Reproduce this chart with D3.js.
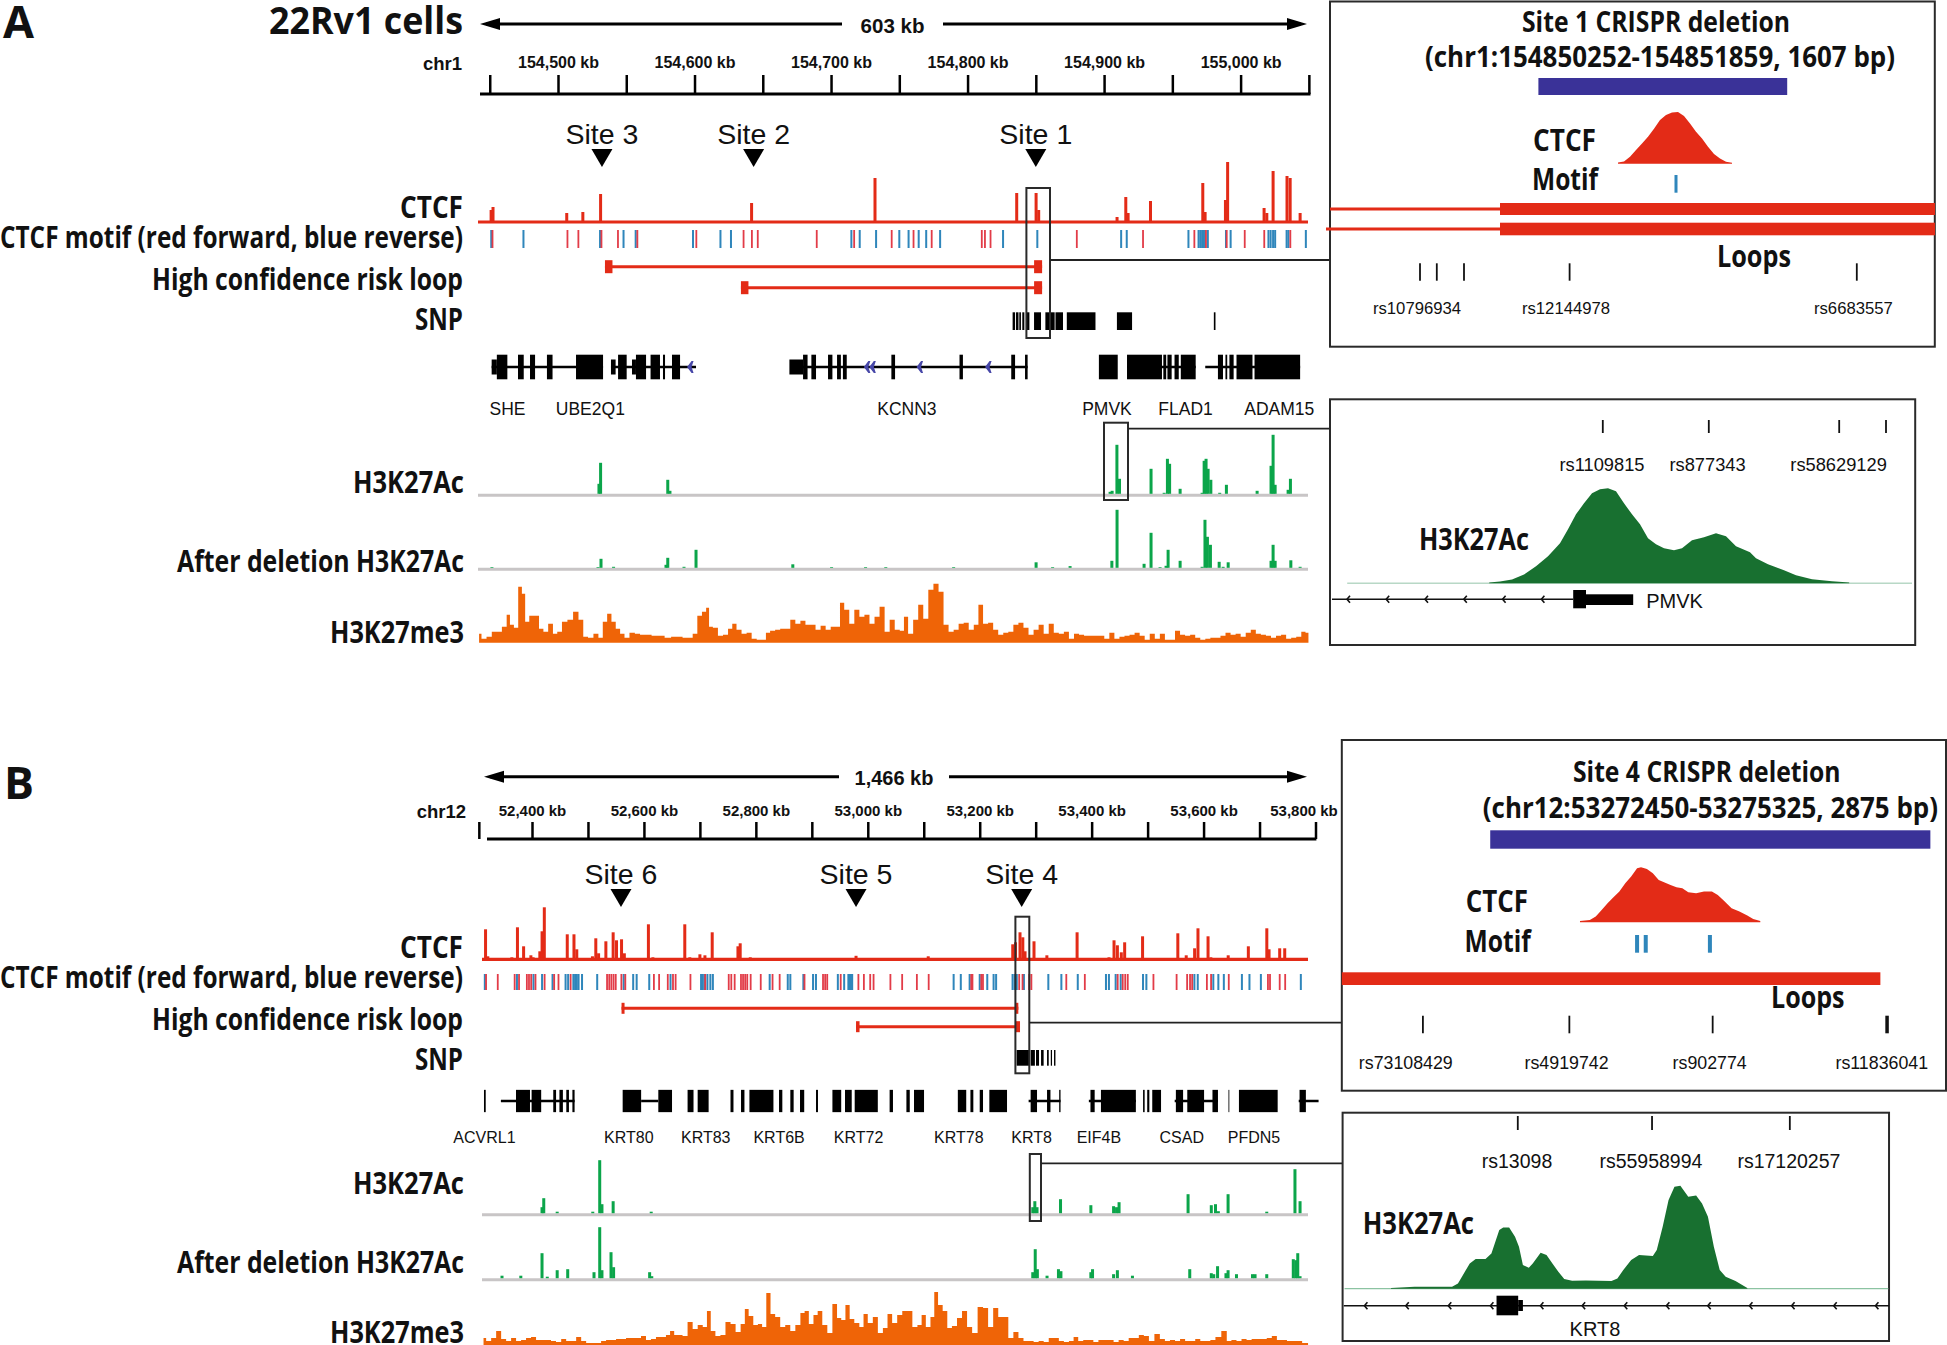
<!DOCTYPE html>
<html>
<head>
<meta charset="utf-8">
<title>22Rv1 cells CRISPR deletion tracks</title>
<script src="https://cdn.jsdelivr.net/npm/d3@7/dist/d3.min.js"></script>
<style>html,body{margin:0;padding:0;background:#fff}svg{display:block}</style>
</head>
<body>
<svg id="chart" width="1947" height="1345"></svg>
<script>
/* ---------- DATA: panel A (positions are kb from 154,500 kb) ---------- */
const originA = 154500;
const axisTicksA = [-50,0,50,100,150,200,250,300,350,400,450,500,550];
const sitesA = ["Site 3","Site 2","Site 1"];
const sitePosA = [32.2,143.3,350];
const ctcfPosA = [-49,-47.6,6.4,18.2,31.2,141.8,213.9,225.6,232.2,291.9,336,350.2,352.1,409.5,415.9,417.6,434,446.2,468.6,472.3,474,488.9,490.5,517.2,519.2,523.8,534,536.3,543.6];
const ctcfValA = [12,15,9,10,28,19,1,1,44,1,29,29,12,5,25,9,21,1,1,39,10,22,60,14,9,51,46,44,9];
const motifFwdA = [-47.9,7,15,31.9,44,58.2,101.4,136,142.1,146.4,189.6,217,244.5,260.5,273.8,310.5,312.8,316.9,380.1,428.6,466.2,474.7,489.9,503.1,517.4,536.5];
const motifRevA = [-48.9,-25.3,30.8,48,56.9,98.9,119,126.7,214.9,221,233,250,256.8,264.2,269.7,279.9,326,351.1,412.5,416.6,461.8,469.2,470.5,471.8,473,474,476,489.3,492.7,520.4,522,523.8,525.3,533.7,535,547.8];
const loopStartA = [34.4,134];
const loopEndA = [354.6,354.6];
const snpStartA = [333,335.5,337.9,340.1,342.8,348.7,357,364.4,372.7,409.4,480.4];
const snpEndA = [334.8,337.3,339.1,341.6,345.3,353.8,363.8,369.9,393.7,420.5,481.6];
const intronStartA = [-48.6,38.8,179.5,416.8,474.1];
const intronEndA = [33,101.1,344,467.1,543.6];
const exonStartA = [-44.8,-29.3,-20.5,-8.1,13.2,44,57.1,67.8,76.9,83.5,179.5,185.6,197.8,204.4,208.7,244.2,294.1,332,342.1,396.2,416.8,443.4,446.4,451.6,456.2,483.4,488.9,491.8,497,510.2];
const exonEndA = [-37.1,-25.1,-16.8,-4,33,50.3,64.5,74.7,78.4,89.4,182.8,189,201,207.2,211.5,246.9,296.6,334.8,344,410,442.4,445.5,449.5,454.7,467.1,487.1,490.2,494.9,508.7,543.6];
const halfExonStartA = [-48.6,38.8,54.2,169.5];
const halfExonEndA = [-44.8,42.2,57.1,179.5];
const geneArrowsA = [97.1,226.6,230.6,265.2,315.4];
const geneNamesA = ["SHE","UBE2Q1","KCNN3","PMVK","FLAD1","ADAM15"];
const genePosA = [-37,23.7,255.6,402.1,459.7,528.3];
const acPosA = [30,31.2,80.4,82,404.4,405.9,409.4,411.3,434.4,444,446.4,448,455.7,471.8,473.3,474.7,476.2,478.2,484.7,489.6,512.1,522.3,523.8,525.3,534.8,536.5];
const acValA = [10,31,14,3,2,3,49,15,25,1,35,30,5,1,33,35,25,14,1,9,3,28,59,9,4,15];
const delPosA = [-48.4,29.3,31.5,40.7,79.1,80.4,92.3,101.1,172,200.4,225.3,240.1,289.8,350.2,362.3,375.1,405.7,409.5,429.3,434.4,441,445.4,446.9,455.7,471.8,473.9,475.7,477.9,484.3,487.2,490.9,522.3,523.8,525.3,536.8,543.6];
const delValA = [.7,.7,9,1,3,10,1,18,3.5,.7,.7,.7,.7,5.5,.7,1.7,7,58,4,35,.7,2,18,7,1,48,31,23,6,1,5.5,7,23,7,7.5,1];
const me3PosA = [-57.8,-54.3,-50.4,-46.6,-43.5,-38.7,-36.5,-33.9,-30.7,-27.6,-25.3,-22.8,-19.3,-15.5,-12.3,-9.1,-5.3,-2.1,1,4.8,9,13.1,16.9,20.1,23.9,28,31.2,34.4,37.6,40.7,43.9,47.1,50.3,54.4,58.2,62,66.2,70.9,75.7,80.5,85.2,
 89.4,93.1,96.8,100.5,103.6,107.3,109.7,111.6,115.3,119,122.7,126.4,128.9,132.6,136.3,140,143.7,147.4,151.1,153.5,157.2,160.9,164.6,168.3,172,175.7,179.4,183.1,186.8,190.5,194.2,197.9,201.6,205.3,207.8,211.5,215.2,218.9,222.6,226.3,230,233.7,237.4,241.1,244.8,248.5,252.2,254.6,258.3,262,265.7,269.4,273.1,276.9,280.6,284.2,288,291.6,295.3,299,302.7,306.4,309.5,313.2,316.9,320.6,324.3,328,331.7,335.4,339.1,342.8,346.5,350.2,353.9,357.6,361.3,365,368.7,372.4,376.1,379.8,383.5,387.2,390.9,394.6,398.3,402,405.7,409.4,413.1,416.8,420.5,424.2,427.9,431.6,435.3,439,442.7,446.4,450.1,453.8,457.5,461.2,464.9,468.6,472.3,476,479.7,483.4,487.1,490.8,494.5,498.2,501.9,505.6,509.3,513,516.7,520.4,524.1,527.8,531.5,535.2,538.9,542.6,546.3,548.8];
const me3ValA = [9,4,6,11,11,16,28,18,15,56,49,21,27,27,14,11,19,9,11,21,23,31,23,6,5,9,5,21,29,21,14,9,5,10,9,8,8,7,7,5,6,
 6,5,5,9,27,31,35,16,15,7,8,14,19,13,9,10,4,3,3,10,12,13,14,14,23,19,22,18,18,13,17,13,16,16,40,33,19,33,26,28,19,26,36,11,23,13,12,26,9,23,38,24,53,59,51,18,11,13,19,20,13,18,38,19,20,13,8,10,11,18,20,15,8,13,18,9,19,10,9,11,4,9,8,7,7,7,7,4,10,4,6,7,8,10,7,3,9,4,9,3,3,12,8,7,8,5,3,4,5,5,7,10,8,9,6,10,13,9,8,7,5,7,8,4,5,6,11,10];

/* ---------- DATA: panel B (positions are kb from 52,400 kb) ---------- */
const originB = 52400;
const axisTicksB = [-95,0,100,200,300,400,500,600,700,800,900,1000,1100,1200,1300,1400];
const sitesB = ["Site 6","Site 5","Site 4"];
const sitePosB = [159,579,875];
const ctcfPosB = [-83,-79,-36,-26,-15,-2,2,14,18,22,45,63,75,80,108,114,119,132,145,151,160,165,208,216,247,273,282,300,309,322,355,368,372,390,422,501,527,579,708,859,864,872,877,881,897,920,974,1031,1040,1046,1053,1059,1091,1154,1169,1184,1190,1208,1213,1244,1280,1313,1317,1336,1345,1376];
const ctcfValB = [30,3,2,32,13,4,2,8,28,52,1,25,25,10,3,21,6,18,27,19,20,6,35,2,1,35,2,5,4,27,1,13,16,2,1,1,1,3.5,3,15,17,27,22,8,18,4,27,2,19,14,7,17,23,26,4,11,31,23,2,4,13,31,10,11,11,1];
const motifFwdB = [-81.9,-61,-30.8,-23,-9,-5.2,-1.3,6.4,22.7,39.8,47.5,69.2,134.3,138.2,142,145.9,149.8,159.9,166.9,218,227.3,242.8,252.1,256.8,283.3,309.6,351.7,356.3,362.3,373.6,377.3,381.1,384.8,390.9,408.9,430,442.7,487.1,520.2,524,527.7,551.8,583.4,593.2,604.5,610.5,640.6,661.6,687.9,709,785,787.2,803,806,870.7,876.7,888.7,892.5,954.9,988,1046.7,1055.7,1060.2,1064.7,1110.6,1152,1170.8,1176,1179.8,1206.1,1213.6,1245.2,1315.2,1318.9,1336.2,1346];
const motifRevB = [-84.3,-26.9,2.6,18,36.7,60,64.6,73.9,77,80.1,83.2,89.4,116.5,163.8,180.8,187,209.5,247.5,302.1,305.1,308.1,313.4,318.7,323.2,424.7,457,461.6,484.9,502.2,507.4,546.5,557.8,565.3,567.6,569.9,572.1,753.4,766.2,782,800,813.5,824.8,829.3,858.7,862.4,866.2,879,922.6,945.9,975.2,1025.6,1030.9,1042.9,1051.9,1091.8,1097.8,1183.6,1189.6,1217.4,1226.4,1236.2,1268.5,1282,1302.4,1373.8];
const loopStartB = [160,579];
const loopEndB = [869,872];
const snpStartB = [866,891,900.6,909.6,920.3,927,932.8];
const snpEndB = [889,898.6,906,914.2,923.3,929.2,935.3];
const intronStartB = [-55.6,195,887.4,995,1148.4,1370];
const intronEndB = [76.1,225.7,944.4,1079,1225.7,1405.5];
const exonStartB = [-85.8,-28.6,-0.7,38,49,61.3,72.2,162,225.7,278,296,354.7,373.5,388.5,441.4,461.6,478.9,507.5,536.8,559.3,576.6,639,669,682.6,760.9,783.4,800,817.2,891,920.3,942,997.9,1016.6,1091.9,1099.3,1108.3,1150.5,1170.9,1215.9,1244.5,1263.2,1371.5];
const exonEndB = [-82.7,-3.6,16.4,43,55.2,66,76.1,195,250.2,288.6,315.6,360,379.6,431.4,447.3,467.5,486.4,511,552.5,571.3,617.9,645,675,700.5,775.9,788.6,805.9,848.8,902.4,926.4,944.4,1005.4,1079,1094.7,1103.1,1124,1163.4,1200.9,1225.7,1246,1332.4,1382.8];
const geneNamesB = ["ACVRL1","KRT80","KRT83","KRT6B","KRT72","KRT78","KRT8","EIF4B","CSAD","PFDN5"];
const genePosB = [-85,173,310.5,441.5,583.5,762.6,892.7,1013,1161,1290];
const acPosB = [17.9,21,45,108.6,121,125,145,213,894.8,898.5,902.4,944.4,998.6,1039.2,1044.5,1049,1172.3,1213.8,1221.3,1226.4,1243.8,1312.9,1363.3,1372.4];
const acValB = [6,15,1.5,1.5,53,9,12,1.5,6,12,6,14,8,7,6,11,19,8,9,2,19,1.5,44,12];
const delPosB = [-53.6,-20,17.9,27.3,45,63.8,110.8,121,125,141.2,145.8,210.2,214,894.8,899.2,903,920.3,940.7,945.1,998.6,1001.6,1039.2,1046,1072.9,1175.3,1213.8,1218.2,1225,1240,1243.8,1258.8,1287.4,1292,1312.9,1360.3,1364.7,1368.3,1372.4];
const delValB = [2.5,2.5,25,1.5,8,9,6,51,8,26,11,6,2,6,29,9,2.5,9,7,6,9,4,8,2.5,9,5,4,12,5,8,4,4,4,4,19,18,25,2];
const me3PosB = [-86.6,-77.3,-68.7,-59.4,-50.9,-41.6,-33.1,-23.8,-15.3,-6,2.6,11.9,20.4,29.7,38.2,47.5,56.8,65.3,74.6,83.2,92.5,101,110.3,118.8,128.1,136.6,145.9,154.5,163.8,172.3,181.6,190.1,199.4,207.9,217.2,225.8,235.1,243.6,249.8,258.3,
 264.5,273.5,282.5,291.6,300.6,309.6,315.6,323.2,332.2,341.2,350.2,359.3,368.3,377.3,383.3,390.9,399.9,407.4,414.9,422.4,430,439,448,457,466,475.1,484.1,490.1,499.2,506.7,514.2,523.2,532.2,541.3,548.8,556.3,563.8,571.4,580.4,589.4,595.4,604.5,613.5,622.5,631.5,639,648,657.1,666.1,675.1,684.2,693.2,699.2,708.2,715.8,721.8,729.3,738.3,745.8,754.9,763.9,772.9,781.9,791,801.5,810.5,819.5,828.6,837.6,846.6,855.6,864.7,873.7,882.7,891.8,900.8,909.8,918.8,927.9,936.9,945.9,954.9,964,971.5,980.5,989.5,998.5,1007.6,1016.6,1025.6,1034.7,1043.7,1052.7,1061.7,1070.7,1079.8,1088.8,1097.8,1106.9,1117.4,1126.4,1135.4,1144.5,1153.5,1162.5,1171.5,1180.6,1189.6,1198.6,1207.6,1216.7,1225.7,1237.7,1245.2,1254.3,1263.3,1272.3,1281.3,1290.4,1299.4,1308.4,1317.4,1326.5,1335.5,1344.5,1353.5,1362.6,1371.6,1380.6];
const me3ValB = [7,4,7,14,6,4,7,4,5,7,8,5,5,5,4,3,6,4,4,8,4,2,2,2,4,5,5,6,6,7,7,7,9,5,6,8,8,10,14,10,
 10,9,23,16,20,18,34,14,9,10,23,21,13,21,36,29,20,21,18,52,31,28,18,20,14,20,32,34,21,30,34,20,12,41,27,25,40,26,22,18,31,22,28,12,17,31,22,30,34,34,18,20,30,18,28,53,40,34,17,19,27,34,18,12,38,37,18,37,28,28,7,13,7,4,4,3,4,3,7,7,4,3,4,8,4,5,5,3,5,5,5,3,5,4,7,7,10,9,4,11,6,4,5,4,6,4,4,6,4,4,5,8,14,4,5,4,6,5,6,6,6,7,9,5,5,4,4,4,2];

/* ---------- DATA: insets (positions are inset window units) ---------- */
const s1PeakPos = [745,760,775,790,805,820,835,850,865,880,895,910,925,940,955,970,985,1000,1015,1030];
const s1PeakVal = [1.3,2.3,7,13.7,20.3,27,35,43.7,48.7,51.3,51.7,47.7,40.3,32,25.3,17,9.7,5.3,2,1];
const s1Motif = [890];
const s1Snp = [250,292,360,624,1342];
const s1SnpNames = ["rs10796934","rs12144978","rs6683557"];
const s1Deletion = [546,1168];
const pmvkPos = [423,450,480,510,540,570,600,620,640,660,680,700,720,740,760,780,800,820,840,860,885,905,930,960,990,1015,1040,1075,1090,1120,1160,1190,1230,1280,1323];
const pmvkVal = [.7,1.7,3.7,8.7,17,27,40,54,69,80,90,94,95,92,80,69,59,45,39,35,33,35,43,46,50,47,37,31,25,19,13,8,4,2,.7];
const pmvkSnp = [707,972,1298,1415];
const pmvkSnpNames = ["rs1109815","rs877343","rs58629129"];
const pmvkArrows = [70,168,265,362,459,556];
const s4PeakPos = [635,660,675,690,705,720,735,750,765,780,790,805,820,835,850,865,880,895,910,930,950,970,985,1000,1020,1040,1060,1075,1093];
const s4PeakVal = [1.3,2.3,5.7,12.3,19,25,30.7,39,45.7,54,55,53.3,49,42.3,39.7,37.3,35,34,30,29,30.7,30.7,27.3,21.7,14,10.7,6.7,3.3,1.3];
const s4Motif = [780,802,965];
const s4Snp = [236,608,972,1415];
const s4SnpNames = ["rs73108429","rs4919742","rs902774","rs11836041"];
const s4Deletion = [407,1525];
const krt8Pos = [155,215,290,310,325,340,355,370,395,410,420,430,440,455,470,480,490,505,515,535,550,565,580,595,615,650,715,730,745,765,785,820,830,845,860,875,890,910,930,945,960,975,990,1005,1030,1060];
const krt8Val = [.7,2,2,2,5.3,15.3,25.3,29.7,29.7,35.3,47,58.7,61.3,61.3,52,42,23.7,21,25.3,36,33.7,25.3,17,9.7,8,8.3,7.7,10.3,18.7,28.7,33.7,32.7,38.7,62,88.7,102,103,92,93.3,85.3,72,42,18.7,12,7.7,.7];
const krt8Snp = [477,818,1168];
const krt8SnpNames = ["rs13098","rs55958994","rs17120257"];
const krt8Arrows = [90,195,303,410,537,643,750,857,962,1068,1175,1282,1388];

const trackNames = ["CTCF","CTCF motif (red forward, blue reverse)","High confidence risk loop","SNP","H3K27Ac","After deletion H3K27Ac","H3K27me3"];

/* ---------- STYLE ---------- */
const RED="#e32b17", MOTIF_RED="#e23c48", BLUE="#2f86bb", GREEN="#0ba54a", GRAY="#c8c5c6",
      ORANGE="#ef6407", NAVY="#3a3298", DKGREEN="#187030", INK="#111", ARROWBLUE="#4747a8";
const LABEL_FONT="'Open Sans',sans-serif", ARIAL="'Liberation Sans',Arial,sans-serif";
const svg = d3.select("#chart");

function fit(g,text,x0,x1,base,size,weight=700){
  return g.append("text").text(text).attr("x",x0).attr("y",base)
    .attr("textLength",x1-x0).attr("lengthAdjust","spacingAndGlyphs")
    .attr("font-family",LABEL_FONT).attr("font-weight",weight).attr("font-size",size).attr("fill",INK);
}
function mid(g,text,x,base,size,weight=400){
  return g.append("text").text(text).attr("x",x).attr("y",base).attr("text-anchor","middle")
    .attr("font-family",ARIAL).attr("font-weight",weight).attr("font-size",size).attr("fill",INK);
}
function zipPos(pos,val){return pos.map((p,i)=>({p,v:val[i]}));}
function spanRect(g,x0,x1,y0,y1,fill){
  g.append("rect").attr("x",Math.min(x0,x1)).attr("width",Math.abs(x1-x0)).attr("y",y0).attr("height",y1-y0).attr("fill",fill);
}
function box(g,x0,x1,y0,y1,w=2){
  g.append("rect").attr("x",x0).attr("y",y0).attr("width",x1-x0).attr("height",y1-y0)
   .attr("fill","none").attr("stroke","#2a2a2a").attr("stroke-width",w);
}
function hline(g,x0,x1,y,color,w){
  g.append("line").attr("x1",x0).attr("x2",x1).attr("y1",y).attr("y2",y).attr("stroke",color).attr("stroke-width",w);
}
function headArrow(g,tip,dir,y){
  g.append("path").attr("fill","#000")
   .attr("d",d3.line()([[tip,y],[tip-dir*20,y-6],[tip-dir*20,y+6]])+"Z");
}
function bars(g,data,x,base,color,width){
  const y=d3.scaleLinear().domain([0,60]).range([base,base-60]);
  g.selectAll(null).data(data).join("rect")
    .attr("x",d=>x(d.p)-width/2).attr("width",width)
    .attr("y",d=>y(d.v)).attr("height",d=>base-y(d.v)).attr("fill",color);
}
function stepArea(g,data,x,endPos,base,color){
  const y=d3.scaleLinear().domain([0,60]).range([base,base-60]);
  const a=d3.area().x(d=>x(d.p)).y0(base).y1(d=>y(d.v)).curve(d3.curveStep);
  const last=data[data.length-1];
  g.append("path").attr("d",a(data.concat([{p:endPos,v:last.v}]))).attr("fill",color);
}
function smoothArea(g,data,x,base,color){
  const y=d3.scaleLinear().domain([0,100]).range([base,base-100]);
  const a=d3.area().x(d=>x(d.p)).y0(base).y1(d=>y(d.v)).curve(d3.curveLinear);
  g.append("path").attr("d",a(data)).attr("fill",color);
}

/* ---------- MAIN PANEL ---------- */
function panel(c){
  const g=svg.append("g");
  const X=d=>c.x(c.origin+d);
  fit(g,c.letter,c.letterX[0],c.letterX[1],c.letterY,44,700);

  // span arrow
  hline(g,c.arrow[0]+6,c.arrow[1],c.arrowY,"#000",3);
  hline(g,c.arrow[2],c.arrow[3]-6,c.arrowY,"#000",3);
  headArrow(g,c.arrow[0],-1,c.arrowY); headArrow(g,c.arrow[3],1,c.arrowY);
  mid(g,c.span,c.spanX,c.spanY,c.spanSize,700);

  // genomic axis
  const axis=d3.axisTop(c.x).tickValues(c.ticks.map(t=>t+c.origin)).tickSizeOuter(0).tickSizeInner(c.tickLen).tickPadding(c.tickPad)
    .tickFormat(v=>((v-c.origin)%c.labelEvery===0)?d3.format(",")(v)+" kb":"");
  const ag=g.append("g").attr("transform",`translate(0,${c.axisY})`).call(axis);
  ag.select(".domain").remove();
  ag.selectAll(".tick line").attr("stroke","#000").attr("stroke-width",2.5);
  ag.selectAll(".tick text").attr("font-family",ARIAL).attr("font-weight",700).attr("font-size",c.tickFont).attr("fill",INK);
  if(c.lastLabelDx) ag.selectAll(".tick:last-of-type text").attr("dx",c.lastLabelDx);
  hline(g,c.axisX[0],c.axisX[1],c.axisY,"#000",3);
  g.append("text").text(c.chr).attr("x",c.chrX).attr("y",c.chrY).attr("text-anchor","end")
    .attr("font-family",ARIAL).attr("font-weight",700).attr("font-size",18.5).attr("fill",INK);

  // site markers
  c.sites.forEach((s,i)=>{
    const tx=X(c.sitePos[i]);
    mid(g,s,tx,c.siteY,28.5);
    g.append("path").attr("fill","#000").attr("d",d3.line()([[tx-10.5,c.siteY+5],[tx+10.5,c.siteY+5],[tx,c.siteY+23]])+"Z");
  });

  // tracks
  bars(g,zipPos(c.ctcfPos,c.ctcfVal),X,c.ctcfY,RED,3);
  hline(g,c.trackX[0],c.trackX[1],c.ctcfY,RED,3.2);
  const motif=g.append("g");
  motif.selectAll(null).data(c.motifRev).join("rect").attr("x",d=>X(d)-1).attr("width",2).attr("y",c.motifY[0]).attr("height",c.motifY[1]-c.motifY[0]).attr("fill",BLUE);
  motif.selectAll(null).data(c.motifFwd).join("rect").attr("x",d=>X(d)-1).attr("width",1.8).attr("y",c.motifY[0]).attr("height",c.motifY[1]-c.motifY[0]).attr("fill",MOTIF_RED);

  c.loopStart.forEach((s,i)=>{
    const y=c.loopY[i], x0=X(s), x1=X(c.loopEnd[i]);
    hline(g,x0,x1,y,RED,3);
    spanRect(g,x0,x0+c.capW[i][0],y-c.capH/2,y+c.capH/2,RED);
    spanRect(g,x1-c.capW[i][1],x1,y-c.capH/2,y+c.capH/2,RED);
  });
  c.snpStart.forEach((s,i)=>spanRect(g,X(s),X(c.snpEnd[i]),c.snpY[0],c.snpY[1],"#000"));

  // genes
  c.intronStart.forEach((s,i)=>hline(g,X(s),X(c.intronEnd[i]),c.geneY,"#000",2.5));
  c.exonStart.forEach((s,i)=>spanRect(g,X(s),X(c.exonEnd[i]),c.geneY-c.exonH/2,c.geneY+c.exonH/2,"#000"));
  (c.halfStart||[]).forEach((s,i)=>spanRect(g,X(s),X(c.halfEnd[i]),c.geneY-7.5,c.geneY+7.5,"#000"));
  (c.geneArrows||[]).forEach(p=>{
    g.append("path").attr("fill",ARROWBLUE).attr("d",d3.line()([[X(p)-3.5,c.geneY],[X(p)+1,c.geneY-6],[X(p)+3,c.geneY-6],[X(p)+1,c.geneY],[X(p)+3,c.geneY+6],[X(p)+1,c.geneY+6]])+"Z");
  });
  c.geneNames.forEach((n,i)=>mid(g,n,X(c.genePos[i]),c.geneLabelY,c.geneFont));

  // histone tracks
  hline(g,c.trackX[0],c.trackX[1],c.acBase,GRAY,3);
  bars(g,zipPos(c.acPos,c.acVal),X,c.acBase-1.5,GREEN,3);
  hline(g,c.trackX[0],c.trackX[1],c.delBase,GRAY,3);
  bars(g,zipPos(c.delPos,c.delVal),X,c.delBase-1.5,GREEN,3);
  stepArea(g,zipPos(c.me3Pos,c.me3Val),X,c.me3End,c.me3Base,ORANGE);

  // track names
  trackNames.forEach((n,i)=>{ const l=c.labels[i]; fit(g,n,l[0],l[1],l[2],l[3]); });

  // highlight boxes and leaders
  box(g,c.box1[0],c.box1[1],c.box1[2],c.box1[3]);
  hline(g,c.box1[1],c.lead1[0],c.lead1[1],"#222",1.8);
  box(g,c.box2[0],c.box2[1],c.box2[2],c.box2[3]);
  hline(g,c.box2[1],c.lead2[0],c.lead2[1],"#222",1.8);
  return g;
}

const labelRows = (y)=>[
 [400,463,y[0],30],[0,463,y[1],30],[152,463,y[2],30],[415,463,y[3],30],
 [353,464,y[4],30],[177,464,y[5],30],[330,464,y[6],30]];

panel({
  letter:"A",letterX:[3,34],letterY:38,origin:originA,
  x:d3.scaleLinear().domain([154500,155000]).range([558,1240.6]),
  arrow:[480,842,943,1307],arrowY:24,span:"603 kb",spanX:892.5,spanY:32.5,spanSize:20.5,
  ticks:axisTicksA,tickLen:19,tickPad:7,tickFont:16,labelEvery:100,axisY:94,axisX:[480,1310.5],
  chr:"chr1",chrX:462,chrY:70,
  sites:sitesA,sitePos:sitePosA,siteY:144,
  ctcfPos:ctcfPosA,ctcfVal:ctcfValA,ctcfY:222,trackX:[478,1308],
  motifFwd:motifFwdA,motifRev:motifRevA,motifY:[230,248],
  loopStart:loopStartA,loopEnd:loopEndA,loopY:[266.7,287.7],capW:[[7.5,8],[7.5,8]],capH:13,
  snpStart:snpStartA,snpEnd:snpEndA,snpY:[312.3,330],
  intronStart:intronStartA,intronEnd:intronEndA,exonStart:exonStartA,exonEnd:exonEndA,halfStart:halfExonStartA,halfEnd:halfExonEndA,
  geneArrows:geneArrowsA,geneY:367,exonH:24.6,geneNames:geneNamesA,genePos:genePosA,geneLabelY:415,geneFont:17.5,
  acBase:495.3,acPos:acPosA,acVal:acValA,delBase:569.3,delPos:delPosA,delVal:delValA,
  me3Pos:me3PosA,me3Val:me3ValA,me3End:549.7,me3Base:642.7,
  labels:labelRows([218,248,290,330,493,572,643]),
  box1:[1026.4,1050,188,338],lead1:[1330,260],box2:[1104,1128,422.7,500],lead2:[1331,428.7]
});
panel({
  letter:"B",letterX:[4,34],letterY:799,origin:originB,
  x:d3.scaleLinear().domain([52400,53800]).range([532,1315.5]),
  arrow:[484,839,949,1307],arrowY:776.7,span:"1,466 kb",spanX:894,spanY:785,spanSize:20,
  ticks:axisTicksB,tickLen:17,tickPad:6,tickFont:15,labelEvery:200,lastLabelDx:-12,axisY:839,axisX:[487,1316.4],
  chr:"chr12",chrX:466,chrY:818,
  sites:sitesB,sitePos:sitePosB,siteY:884,
  ctcfPos:ctcfPosB,ctcfVal:ctcfValB,ctcfY:959.3,trackX:[482,1308],
  motifFwd:motifFwdB,motifRev:motifRevB,motifY:[974,990],
  loopStart:loopStartB,loopEnd:loopEndB,loopY:[1008.3,1026.7],capW:[[3,3],[3.5,4.5]],capH:11,
  snpStart:snpStartB,snpEnd:snpEndB,snpY:[1050,1065.7],
  intronStart:intronStartB,intronEnd:intronEndB,exonStart:exonStartB,exonEnd:exonEndB,
  geneY:1101,exonH:22.3,geneNames:geneNamesB,genePos:genePosB,geneLabelY:1143.3,geneFont:16,
  acBase:1214.7,acPos:acPosB,acVal:acValB,delBase:1279.7,delPos:delPosB,delVal:delValB,
  me3Pos:me3PosB,me3Val:me3ValB,me3End:1386.7,me3Base:1345,
  labels:labelRows([957.7,987.5,1030,1070,1194,1272.5,1343]),
  box1:[1015.4,1029.3,916.7,1073.3],lead1:[1342,1022.7],box2:[1029.8,1041,1154,1221],lead2:[1343,1163.3]
});

/* ---------- INSETS ---------- */
const inA = d3.scaleLinear().domain([0,1568]).range([1320,1947.2]);
const inB = d3.scaleLinear().domain([0,1568]).range([1330,1947.3]);
const ins = svg.append("g");
function ticksAt(g,pos,x,y0,y1,w=1.8){
  g.selectAll(null).data(pos).join("line").attr("x1",d=>x(d)).attr("x2",d=>x(d)).attr("y1",y0).attr("y2",y1).attr("stroke","#111").attr("stroke-width",w);
}
function geneRow(g,x,y,x0,x1,arrows){
  hline(g,x(x0),x(x1),y,"#111",1.6);
  arrows.forEach(p=>g.append("path").attr("fill","none").attr("stroke","#111").attr("stroke-width",1.6)
    .attr("d",d3.line()([[x(p)+2,y-3.5],[x(p)-1,y],[x(p)+2,y+3.5]])));
}

// Site 1
box(ins,inA(25),inA(1537),1.5,346.7);
fit(ins,"Site 1 CRISPR deletion",1522,1790,31.7,29);
fit(ins,"(chr1:154850252-154851859, 1607 bp)",1425,1895,66.7,29);
spanRect(ins,inA(s1Deletion[0]),inA(s1Deletion[1]),78,95,NAVY);
smoothArea(ins,zipPos(s1PeakPos,s1PeakVal),inA,163.7,RED);
fit(ins,"CTCF",1533,1596,150.7,30); fit(ins,"Motif",1532,1598,190,30);
s1Motif.forEach(p=>spanRect(ins,inA(p)-1.5,inA(p)+1.5,175,192.7,BLUE));
hline(ins,1330,1500,209,RED,3); spanRect(ins,1500,1935,203,215,RED);
hline(ins,1326,1500,229,RED,3); spanRect(ins,1500,1935,222.7,235.3,RED);
fit(ins,"Loops",1717,1791,266.7,30);
ticksAt(ins,s1Snp,inA,263.3,280.7);
mid(ins,s1SnpNames[0],1417,314.3,16.7); mid(ins,s1SnpNames[1],1566,314.3,16.7); mid(ins,s1SnpNames[2],1853.4,314.3,16.7);

// PMVK
box(ins,inA(25),inA(1488),399.3,645);
ticksAt(ins,pmvkSnp,inA,420,433);
mid(ins,pmvkSnpNames[0],1602,471,18.3); mid(ins,pmvkSnpNames[1],1707.6,471,18.3); mid(ins,pmvkSnpNames[2],1838.6,471,18.3);
fit(ins,"H3K27Ac",1419,1529,550,30);
hline(ins,inA(68),inA(1480),583.3,"#b8d8c6",1.5);
smoothArea(ins,zipPos(pmvkPos,pmvkVal),inA,583.3,DKGREEN);
geneRow(ins,inA,599.3,30,633,pmvkArrows);
spanRect(ins,inA(633),inA(665),590,608.3,"#000"); spanRect(ins,inA(665),inA(783),594.3,605,"#000");
mid(ins,"PMVK",1674.5,608,20);

// Site 4
box(ins,inB(30),1946,740,1090.7);
fit(ins,"Site 4 CRISPR deletion",1573,1840.6,782.3,29);
fit(ins,"(chr12:53272450-53275325, 2875 bp)",1482.8,1938,817.7,29);
spanRect(ins,inB(s4Deletion[0]),inB(s4Deletion[1]),830.3,848.7,NAVY);
smoothArea(ins,zipPos(s4PeakPos,s4PeakVal),inB,922.3,RED);
fit(ins,"CTCF",1465.8,1528,912.3,30); fit(ins,"Motif",1464.6,1530.8,951.7,30);
s4Motif.forEach(p=>spanRect(ins,inB(p)-2,inB(p)+2,935,952.7,BLUE));
spanRect(ins,inB(30),inB(1398),972.3,985,RED);
fit(ins,"Loops",1771,1844.6,1008,30);
ticksAt(ins,s4Snp.slice(0,3),inB,1015.7,1033.3);
ticksAt(ins,s4Snp.slice(3),inB,1015.7,1033.3,3.5);
mid(ins,s4SnpNames[0],1405.8,1069,17.8); mid(ins,s4SnpNames[1],1566.6,1069,17.8); mid(ins,s4SnpNames[2],1709.7,1069,17.8); mid(ins,s4SnpNames[3],1881.8,1069,17.8);

// KRT8
box(ins,inB(32),inB(1420),1112.7,1341);
ticksAt(ins,krt8Snp,inB,1116,1130);
mid(ins,krt8SnpNames[0],1517,1167.7,19.5); mid(ins,krt8SnpNames[1],1650.9,1167.7,19.5); mid(ins,krt8SnpNames[2],1788.9,1167.7,19.5);
fit(ins,"H3K27Ac",1362.7,1474,1234,30);
hline(ins,inB(37),inB(1418),1288.7,"#8cc3a2",1.2);
smoothArea(ins,zipPos(krt8Pos,krt8Val),inB,1288.7,DKGREEN);
geneRow(ins,inB,1305.7,35,1420,krt8Arrows);
spanRect(ins,inB(423),inB(478),1295.7,1315.3,"#000"); spanRect(ins,inB(478),inB(490),1300,1311,"#000");
mid(ins,"KRT8",1595,1336,20);

// 22Rv1 heading
fit(ins,"22Rv1 cells",269,463,34,37);
</script>
</body>
</html>
